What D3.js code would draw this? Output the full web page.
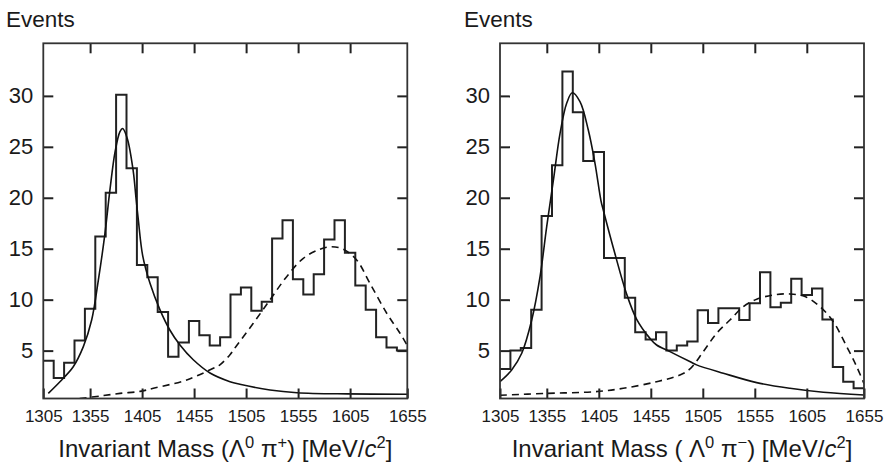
<!DOCTYPE html>
<html><head><meta charset="utf-8">
<script src="https://cdn.jsdelivr.net/npm/d3@7"></script>
<style>
body{margin:0;background:#fff}
svg{display:block}
text{font-family:"Liberation Sans",Arial,Helvetica,sans-serif;fill:#1a1a1a}
</style>
</head><body>
<svg id="chart" width="886" height="467"></svg>
<script>
// ---------- data ----------
const binLow = 1305, binWidth = 10, massMin = 1305, massMax = 1655;
const massTickValues = [1305, 1350, 1400, 1450, 1500, 1550, 1600, 1655];
const massTickLabels = ["1305", "1355", "1405", "1455", "1505", "1555", "1605", "1655"];
const innerMassTicks = [1350, 1400, 1450, 1500, 1550, 1600];
const eventTicks = [5, 10, 15, 20, 25, 30];

// Λ0 π+ histogram (events per 10 MeV bin)
const histPlus = [4.0, 2.3, 3.8, 6.0, 9.1, 16.2, 20.5, 30.1, 22.9, 13.4, 12.2, 8.8, 4.4, 5.8, 7.9, 6.5, 5.5,
                  6.3, 10.5, 11.2, 8.9, 9.8, 16.0, 17.8, 12.0, 10.5, 12.5, 15.9, 17.8, 14.6, 11.4, 9.0, 6.3, 5.3, 5.0];
// Λ0 π− histogram
const histMinus = [3.2, 5.0, 5.25, 9.0, 18.2, 23.2, 32.4, 28.4, 23.6, 24.5, 14.1, 14.1, 10.2, 6.8, 6.1, 6.8, 5.0,
                   5.5, 5.9, 8.95, 7.7, 9.15, 9.15, 8.0, 9.65, 12.7, 9.25, 9.7, 12.05, 10.45, 11.1, 8.05, 3.4, 1.95, 1.3];

// fitted curves
const sigPlusMass = [1309.8, 1321, 1333.8, 1343.5, 1351.5, 1357.9, 1364.3, 1369.1, 1374, 1378.7, 1381.3, 1385.8, 1391.5,
                     1394.1, 1396.3, 1400.6, 1407.6, 1417.2, 1426.8, 1436.4, 1449.2, 1465.3, 1484.5, 1494, 1523, 1549, 1597, 1655];
const sigPlusVal  = [0.81, 1.95, 3.42, 5.39, 8.0, 11.9, 16.5, 20.8, 24.5, 26.5, 26.8, 25.8, 22.6,
                     20.0, 17.9, 14.3, 11.6, 9.0, 7.0, 5.55, 4.1, 2.8, 1.95, 1.7, 1.14, 0.87, 0.75, 0.72];
const bkgPlusMass = [1340, 1360, 1378.8, 1398, 1410.8, 1442.9, 1468.5, 1474.8, 1484.5, 1491, 1506.9, 1522.9, 1539,
                     1555, 1571, 1582.3, 1593.5, 1606.3, 1619.1, 1635.2, 1648, 1655];
const bkgPlusVal  = [0.3, 0.55, 0.8, 1.0, 1.3, 2.12, 3.27, 3.6, 4.6, 5.5, 7.68, 9.97, 12.26,
                     14.06, 14.95, 15.2, 14.95, 13.9, 11.6, 8.67, 6.7, 5.5];

const sigMinusMass = [1305, 1316.2, 1325.9, 1335.5, 1343.5, 1349.9, 1356.3, 1362.7, 1369.1, 1374.5, 1381.9, 1389.9, 1396.3,
                      1402.1, 1404.3, 1415.4, 1426.6, 1436.3, 1449.2, 1455.6, 1468.4, 1488, 1494, 1519.7, 1551.8, 1583.8, 1615.9, 1655];
const sigMinusVal  = [1.95, 3.1, 4.74, 8.0, 12.26, 17.16, 21.7, 26.3, 29.27, 30.3, 29.43, 26.65, 23.4,
                      19.7, 18.8, 14.55, 10.6, 8.1, 6.2, 5.55, 4.9, 3.9, 3.6, 2.78, 1.86, 1.3, 0.91, 0.65];
const bkgMinusMass = [1305, 1350, 1396.3, 1423.5, 1455.6, 1478, 1487.7, 1500.5, 1513.3, 1526.1, 1538.9, 1551.8, 1567.8,
                      1583.8, 1598.3, 1612.7, 1625.5, 1638.4, 1648, 1655];
const bkgMinusVal  = [0.62, 0.8, 0.97, 1.3, 1.95, 2.6, 3.2, 4.9, 6.7, 8.0, 9.31, 10.04, 10.46,
                      10.56, 10.3, 9.31, 7.84, 5.39, 3.42, 1.75];

const yLabel = "Events";
const titlePlus  = [{t:"Invariant Mass (Λ"},{t:"0",sup:1},{t:" π"},{t:"+",sup:1},{t:") [MeV/"},{t:"c",it:1},{t:"2",sup:1},{t:"]"}];
const titleMinus = [{t:"Invariant Mass ( Λ"},{t:"0",sup:1},{t:" π"},{t:"−",sup:1},{t:") [MeV/"},{t:"c",it:1},{t:"2",sup:1},{t:"]"}];

// ---------- layout ----------
const svg = d3.select("#chart");
svg.append("rect").attr("width", 886).attr("height", 467).attr("fill", "#fff");
const plotTop = 43.3, plotBottom = 398.5;
const panels = [
  {x0: 43.3, x1: 407.3, hist: histPlus, sig: [sigPlusMass, sigPlusVal], bkg: [bkgPlusMass, bkgPlusVal], title: titlePlus, evX: 6},
  {x0: 500, x1: 864, hist: histMinus, sig: [sigMinusMass, sigMinusVal], bkg: [bkgMinusMass, bkgMinusVal], title: titleMinus, evX: 464}
];
const y = d3.scaleLinear().domain([0.3, 35.16]).range([plotBottom, plotTop]);
const ink = "#222";

panels.forEach((p, i) => {
  const x = d3.scaleLinear().domain([massMin, massMax]).range([p.x0, p.x1]);
  const g = svg.append("g");
  const clipId = "clip" + i;
  svg.append("clipPath").attr("id", clipId).append("rect")
    .attr("x", p.x0).attr("y", plotTop).attr("width", p.x1 - p.x0).attr("height", plotBottom - plotTop);

  // histogram
  const pts = p.hist.map((v, k) => [binLow + k * binWidth, v]);
  pts.push([binLow + p.hist.length * binWidth, p.hist[p.hist.length - 1]]);
  const step = d3.line().x(d => x(d[0])).y(d => y(d[1])).curve(d3.curveStepAfter);
  g.append("path").attr("d", step(pts)).attr("fill", "none").attr("stroke", ink)
    .attr("stroke-width", 2).attr("clip-path", `url(#${clipId})`);

  const smooth = d3.line().x(d => x(d[0])).y(d => y(d[1])).curve(d3.curveCatmullRom.alpha(0.5));
  const sigPts = p.sig[0].map((m, k) => [m, p.sig[1][k]]);
  const bkgPts = p.bkg[0].map((m, k) => [m, p.bkg[1][k]]);
  g.append("path").attr("d", smooth(sigPts)).attr("fill", "none").attr("stroke", "#111")
    .attr("stroke-width", 1.6).attr("clip-path", `url(#${clipId})`);
  g.append("path").attr("d", smooth(bkgPts)).attr("fill", "none").attr("stroke", "#111")
    .attr("stroke-width", 1.6).attr("stroke-dasharray", "7,5").attr("clip-path", `url(#${clipId})`);

  // axes (inward ticks)
  const axB = g.append("g").attr("transform", `translate(0,${plotBottom})`)
    .call(d3.axisBottom(x).tickValues(massTickValues).tickSizeInner(-10).tickSizeOuter(0).tickPadding(11)
      .tickFormat((d, k) => massTickLabels[k]));
  axB.selectAll("text").style("font-size", "17px");
  const axT = g.append("g").attr("transform", `translate(0,${plotTop})`)
    .call(d3.axisTop(x).tickValues(innerMassTicks).tickSizeInner(-10).tickSizeOuter(0).tickFormat(""));
  const axL = g.append("g").attr("transform", `translate(${p.x0},0)`)
    .call(d3.axisLeft(y).tickValues(eventTicks).tickSizeInner(-10).tickSizeOuter(0).tickPadding(10));
  axL.selectAll("text").style("font-size", "22px");
  const axR = g.append("g").attr("transform", `translate(${p.x1},0)`)
    .call(d3.axisRight(y).tickValues(eventTicks).tickSizeInner(-10).tickSizeOuter(0).tickFormat(""));
  [axB, axT, axL, axR].forEach(a => {
    a.select(".domain").remove();
    a.selectAll("line").attr("stroke", ink).attr("stroke-width", 2);
    a.selectAll("text").attr("fill", "#1a1a1a").style("font-family", '"Liberation Sans",Arial,sans-serif');
  });

  // frame
  g.append("rect").attr("x", p.x0).attr("y", plotTop).attr("width", p.x1 - p.x0).attr("height", plotBottom - plotTop)
    .attr("fill", "none").attr("stroke", "#333").attr("stroke-width", 1.8);

  // labels
  g.append("text").attr("x", p.evX).attr("y", 27).style("font-size", "22.5px").text(yLabel);
  const t = g.append("text").attr("x", (p.x0 + p.x1) / 2).attr("y", 457)
    .attr("text-anchor", "middle").style("font-size", "24px");
  let shifted = false;
  p.title.forEach(part => {
    const ts = t.append("tspan").text(part.t);
    if (part.sup) {
      ts.attr("dy", shifted ? 0 : -9).style("font-size", "16.5px");
      shifted = true;
    } else {
      if (shifted) ts.attr("dy", 9);
      shifted = false;
    }
    if (part.it) ts.style("font-style", "italic");
  });
});
</script>
</body></html>
